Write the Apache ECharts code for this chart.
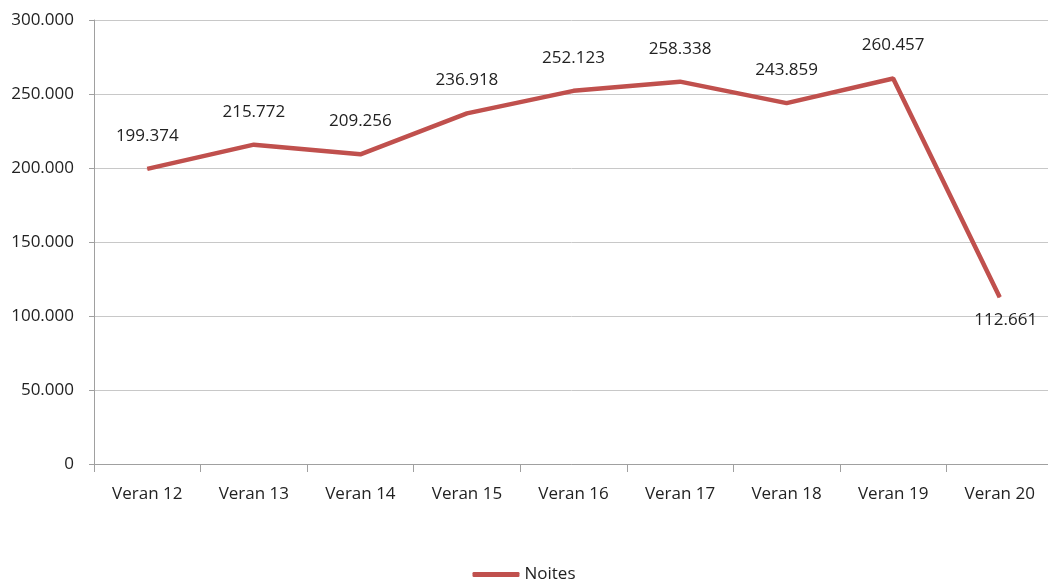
<!DOCTYPE html>
<html>
<head>
<meta charset="utf-8">
<script src="https://cdn.jsdelivr.net/npm/echarts@6/dist/echarts.min.js"></script>
<style>
    html,body{margin:0;padding:0;background:#fff;}
    #main{width:1048px;height:585px;}
</style>
</head>
<body>
<div id="main"></div>
<script>
var categories = ['Veran 12', 'Veran 13', 'Veran 14', 'Veran 15', 'Veran 16', 'Veran 17', 'Veran 18', 'Veran 19', 'Veran 20'];
var noites = [199374, 215772, 209256, 236918, 252123, 258338, 243859, 260457, 112661];
var seriesName = 'Noites';

// miles con punto
function fmt(v) {
    return String(v).replace(/\B(?=(\d{3})+(?!\d))/g, '.');
}

var font = '"Open Sans", sans-serif';

var pointData = noites.map(function (v, i) {
    if (i == noites.length - 1) {
        return {value: v, label: {position: 'bottom', distance: 14, offset: [6, 0]}};
    }
    return v;
});

var myChart = echarts.init(document.getElementById('main'));

var option = {
    animation: false,
    textStyle: {fontFamily: font},
    // el eje llega un poco más allá del borde derecho, como en el original
    grid: {left: 94, right: -5, top: 20, bottom: 121, containLabel: false, outerBoundsMode: 'none'},
    legend: {
        top: 561,
        left: 'center',
        data: [seriesName],
        icon: 'roundRect',
        itemWidth: 47,
        itemHeight: 5,
        itemGap: 4,
        textStyle: {fontFamily: font, fontSize: 17, color: '#222'}
    },
    xAxis: {
        type: 'category',
        data: categories,
        boundaryGap: true,
        axisLine: {lineStyle: {color: '#a0a0a0', width: 1}},
        axisTick: {show: true, length: 8, lineStyle: {color: '#a0a0a0'}},
        axisLabel: {fontFamily: font, fontSize: 17, color: '#222', margin: 22}
    },
    yAxis: {
        type: 'value',
        min: 0,
        max: 300000,
        interval: 50000,
        axisLine: {show: true, lineStyle: {color: '#a0a0a0', width: 1}},
        axisTick: {show: true, length: 5, lineStyle: {color: '#a0a0a0'}},
        splitLine: {lineStyle: {color: '#c8c8c8', width: 1}},
        axisLabel: {
            fontFamily: font, fontSize: 17, color: '#222', margin: 20,
            formatter: function (v) { return fmt(v); }
        }
    },
    series: [
        {
            name: seriesName,
            type: 'line',
            data: pointData,
            symbol: 'circle',
            symbolSize: 1,
            showSymbol: true,
            lineStyle: {color: '#c0504d', width: 4.5},
            itemStyle: {color: '#c0504d'},
            label: {
                show: true,
                position: 'top',
                distance: 24,
                fontFamily: font,
                fontSize: 17,
                color: '#222',
                formatter: function (p) { return fmt(p.value); }
            }
        }
    ]
};

myChart.setOption(option);
</script>
</body>
</html>
